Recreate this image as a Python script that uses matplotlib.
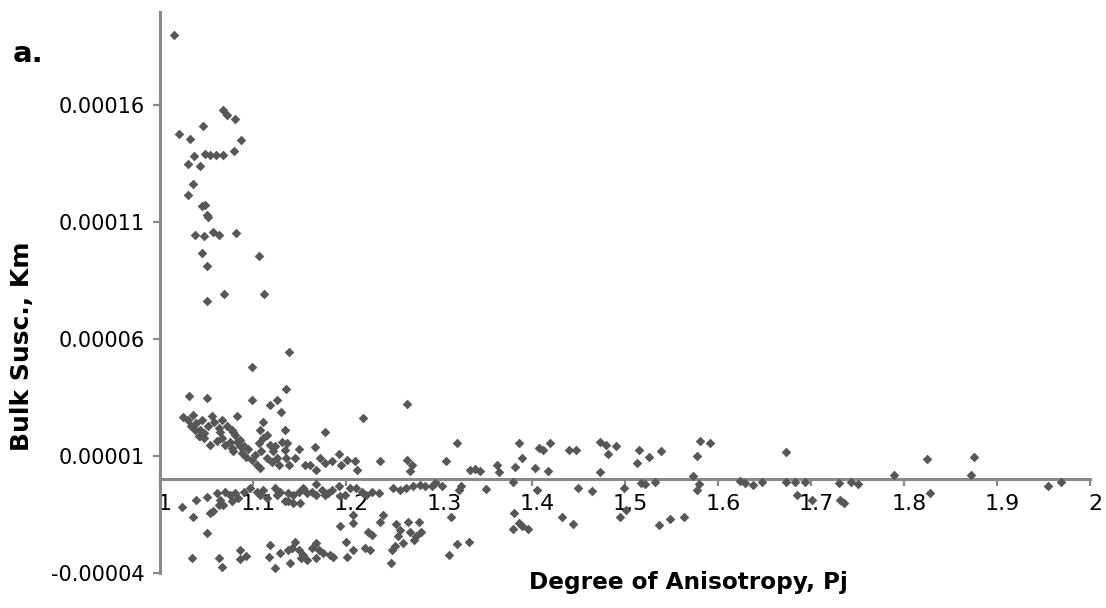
"""
Bulk susceptibility (Km) against degree of anisotropy (Pj), panel a.
Saves out.png at 1106x608.
"""
import numpy as np
import matplotlib.pyplot as plt
from matplotlib.transforms import ScaledTranslation

# Km values are written in units of 1e-5 (SI) and scaled below

# high-susceptibility group near Pj = 1.0 - 1.15
pj_high = [1.015, 1.068, 1.072, 1.081, 1.046, 1.020, 1.032, 1.087, 1.080, 1.048,
           1.054, 1.060, 1.068, 1.037, 1.030, 1.043, 1.036, 1.030, 1.045, 1.048,
           1.051, 1.052, 1.038, 1.047, 1.057, 1.063, 1.082, 1.045, 1.051, 1.106,
           1.051, 1.069, 1.112, 1.099, 1.139]
km_high = [19.02, 15.81, 15.56, 15.39, 15.10, 14.77, 14.57, 14.53, 14.03, 13.93,
           13.89, 13.89, 13.89, 13.81, 13.50, 13.42, 12.63, 12.14, 11.67, 11.75,
           11.32, 11.20, 10.46, 10.39, 10.59, 10.46, 10.52, 9.68, 9.14, 9.53,
           7.61, 7.91, 7.91, 4.82, 5.44]

# dense positive band, Km 0 - 4e-5
pj_mid = [1.031, 1.051, 1.099, 1.118, 1.126, 1.130, 1.135, 1.266, 1.218, 1.177,
          1.025, 1.030, 1.036, 1.039, 1.045, 1.056, 1.058, 1.067, 1.083, 1.043,
          1.047, 1.054, 1.063, 1.067, 1.072, 1.077, 1.081, 1.075, 1.077, 1.086,
          1.090, 1.079, 1.088, 1.093, 1.099, 1.104, 1.108, 1.115, 1.109, 1.106,
          1.111, 1.118, 1.122, 1.126, 1.128, 1.108, 1.111, 1.115, 1.134, 1.131,
          1.134, 1.136, 1.137, 1.149, 1.167, 1.145, 1.139, 1.156, 1.161, 1.168,
          1.172, 1.177, 1.185, 1.193, 1.195, 1.201, 1.210, 1.212, 1.237, 1.266,
          1.271, 1.269, 1.043, 1.047, 1.079, 1.083, 1.086, 1.033, 1.038, 1.042,
          1.052, 1.061, 1.070, 1.095, 1.102, 1.120, 1.124, 1.065]
km_mid = [3.57, 3.47, 3.37, 3.18, 3.37, 2.87, 3.87, 3.23, 2.60, 2.04,
          2.68, 2.54, 2.76, 2.40, 2.54, 2.71, 2.43, 2.54, 2.71, 2.11,
          1.97, 1.47, 2.19, 1.76, 2.26, 2.11, 1.90, 1.61, 1.33, 1.69,
          1.40, 1.19, 1.12, 0.97, 0.83, 0.62, 0.48, 0.90, 1.19, 1.55,
          1.76, 1.47, 1.19, 0.90, 0.62, 2.11, 2.43, 1.90, 2.11, 1.61,
          1.26, 0.90, 1.55, 1.29, 1.36, 0.90, 0.62, 0.62, 0.62, 0.40,
          0.90, 0.69, 0.76, 1.09, 0.62, 0.83, 0.76, 0.40, 0.76, 0.83,
          0.62, 0.37, 1.83, 1.76, 2.04, 1.61, 1.40, 2.28, 2.12, 1.85,
          2.29, 1.65, 1.45, 1.30, 1.05, 0.75, 1.40, 2.00]

# positive tail, Pj > 1.3
pj_tail = [1.308, 1.319, 1.333, 1.339, 1.344, 1.362, 1.365, 1.382, 1.386, 1.389,
           1.403, 1.408, 1.412, 1.417, 1.419, 1.440, 1.447, 1.473, 1.473, 1.480,
           1.482, 1.490, 1.515, 1.513, 1.526, 1.539, 1.577, 1.581, 1.591, 1.573,
           1.673, 1.789, 1.825, 1.872, 1.875]
km_tail = [0.76, 1.55, 0.40, 0.43, 0.33, 0.62, 0.29, 0.52, 1.55, 0.90,
           0.50, 1.33, 1.23, 0.37, 1.55, 1.26, 1.23, 1.61, 0.29, 1.47,
           1.09, 1.44, 1.26, 0.69, 0.95, 1.22, 1.00, 1.64, 1.57, 0.15,
           1.16, 0.19, 0.87, 0.16, 0.95]

# weakly diamagnetic band just under zero
pj_neg = [1.024, 1.039, 1.036, 1.051, 1.054, 1.057, 1.061, 1.065, 1.070, 1.075,
          1.081, 1.084, 1.077, 1.068, 1.063, 1.090, 1.097, 1.104, 1.108, 1.111,
          1.115, 1.124, 1.126, 1.129, 1.134, 1.138, 1.143, 1.149, 1.154, 1.158,
          1.151, 1.143, 1.138, 1.163, 1.168, 1.168, 1.174, 1.177, 1.181, 1.185,
          1.192, 1.194, 1.199, 1.204, 1.211, 1.217, 1.222, 1.228, 1.235, 1.251,
          1.258, 1.265, 1.272, 1.280, 1.285, 1.292, 1.296, 1.303, 1.324, 1.322,
          1.351, 1.380, 1.405, 1.449, 1.465, 1.499, 1.517, 1.521, 1.532, 1.577,
          1.580, 1.624, 1.629, 1.638, 1.647, 1.673, 1.683, 1.694, 1.685, 1.701,
          1.730, 1.731, 1.735, 1.743, 1.751, 1.828, 1.955, 1.969]
km_neg = [-1.19, -0.88, -1.62, -0.77, -1.45, -1.34, -0.60, -0.88, -0.53, -0.67,
          -0.60, -0.81, -0.95, -1.10, -1.10, -0.53, -0.38, -0.53, -0.67, -0.45,
          -0.81, -0.38, -0.67, -0.53, -0.95, -0.60, -0.67, -0.53, -0.38, -0.60,
          -1.02, -1.02, -0.95, -0.53, -0.20, -0.67, -0.45, -0.67, -0.60, -0.45,
          -0.31, -0.74, -0.67, -0.38, -0.38, -0.53, -0.67, -0.53, -0.60, -0.38,
          -0.45, -0.38, -0.31, -0.24, -0.31, -0.31, -0.17, -0.28, -0.28, -0.48,
          -0.42, -0.10, -0.48, -0.38, -0.50, -0.36, -0.17, -0.20, -0.12, -0.45,
          -0.21, -0.06, -0.17, -0.24, -0.10, -0.14, -0.14, -0.10, -0.67, -0.88,
          -0.17, -0.91, -1.02, -0.14, -0.20, -0.57, -0.31, -0.10]

# lower diamagnetic group, Km -1.3e-5 to -3.8e-5
pj_low = [1.050, 1.034, 1.063, 1.067, 1.086, 1.086, 1.092, 1.118, 1.117, 1.129,
          1.124, 1.138, 1.140, 1.142, 1.145, 1.149, 1.152, 1.158, 1.154, 1.163,
          1.168, 1.171, 1.175, 1.168, 1.183, 1.186, 1.194, 1.200, 1.208, 1.201,
          1.207, 1.208, 1.220, 1.226, 1.224, 1.228, 1.240, 1.237, 1.249, 1.253,
          1.248, 1.254, 1.258, 1.256, 1.261, 1.267, 1.278, 1.269, 1.281, 1.273,
          1.275, 1.313, 1.319, 1.332, 1.311, 1.381, 1.386, 1.389, 1.380, 1.396,
          1.432, 1.444, 1.495, 1.501, 1.537, 1.548, 1.563]
km_low = [-2.31, -3.35, -3.35, -3.74, -3.02, -3.41, -3.28, -2.81, -3.31, -3.14,
          -3.81, -3.02, -3.57, -2.95, -2.67, -3.02, -3.38, -3.45, -3.24, -2.95,
          -2.74, -3.02, -3.16, -3.38, -3.24, -3.31, -2.02, -2.67, -3.02, -3.33,
          -1.52, -1.88, -2.95, -3.05, -2.24, -2.38, -1.52, -1.81, -3.02, -2.85,
          -3.59, -1.91, -2.17, -2.45, -2.74, -1.84, -1.81, -2.24, -2.28, -2.59,
          -2.45, -1.60, -2.77, -2.67, -3.24, -1.45, -1.88, -1.99, -2.14, -2.14,
          -1.62, -1.91, -1.60, -1.31, -1.95, -1.71, -1.60]

x_ticks = [1, 1.1, 1.2, 1.3, 1.4, 1.5, 1.6, 1.7, 1.8, 1.9, 2]
x_tick_labels = ["1", "1.1", "1.2", "1.3", "1.4", "1.5", "1.6", "1.7", "1.8", "1.9", "2"]
y_ticks = [-0.00004, 0.00001, 0.00006, 0.00011, 0.00016]
y_tick_labels = ["-0.00004", "0.00001", "0.00006", "0.00011", "0.00016"]

pj = np.concatenate([pj_high, pj_mid, pj_tail, pj_neg, pj_low])
km = np.concatenate([km_high, km_mid, km_tail, km_neg, km_low]) * 1e-5

axis_grey = "#898989"

fig = plt.figure(figsize=(11.06, 6.08), dpi=100)
ax = fig.add_axes([160 / 1106, 35.3 / 608, 930 / 1106, 561 / 608])

ax.scatter(pj, km, marker="D", s=24, color="#575757", linewidths=0,
           zorder=3, clip_on=False)

ax.set_xlim(1, 2)
ax.set_ylim(-0.00004, 0.0002)
ax.set_xticks(x_ticks)
ax.set_xticklabels(x_tick_labels)
ax.set_yticks(y_ticks)
ax.set_yticklabels(y_tick_labels)

# x axis crosses at Km = 0, like the original spreadsheet chart
ax.spines["bottom"].set_position(("data", 0))
ax.spines["top"].set_visible(False)
ax.spines["right"].set_visible(False)
for side in ["left", "bottom"]:
    ax.spines[side].set_color(axis_grey)
    ax.spines[side].set_linewidth(2.2)

ax.tick_params(axis="both", direction="out", length=5, width=1.6, color=axis_grey)
ax.tick_params(axis="y", labelsize=15, pad=6)
ax.tick_params(axis="x", labelsize=16, pad=6)

# the spreadsheet sets its x labels a little to the right of each tick
shift = ScaledTranslation(5 / 100, 0, fig.dpi_scale_trans)
for lbl in ax.get_xticklabels():
    lbl.set_transform(lbl.get_transform() + shift)

fig.text(688 / 1106, 1 - 583 / 608, "Degree of Anisotropy, Pj",
         ha="center", va="center", fontsize=16.7, fontweight="bold")
fig.text(22 / 1106, 1 - 346 / 608, "Bulk Susc., Km", rotation=90,
         ha="center", va="center", fontsize=18, fontweight="bold")
fig.text(13 / 1106, 1 - 62 / 608, "a.", ha="left", va="baseline",
         fontsize=21, fontweight="bold")

fig.savefig("out.png", dpi=100)
